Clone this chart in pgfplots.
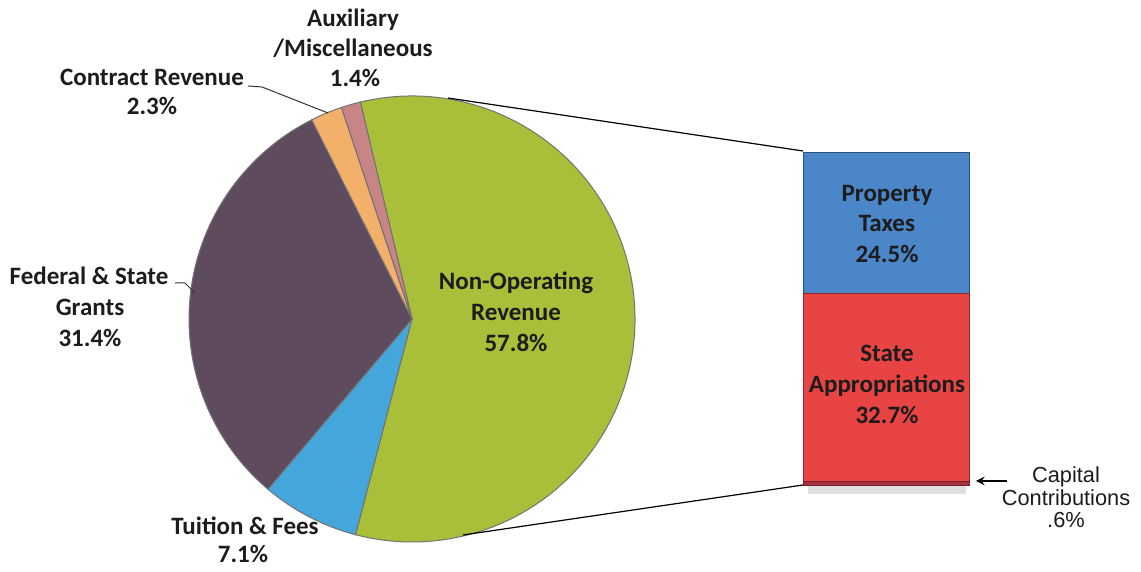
\documentclass[border=0pt]{standalone}
\usepackage{pgfplots}
\pgfplotsset{compat=1.18}
\usepackage{fontspec}
\setmainfont{Carlito}
\newfontfamily\arialfont{Liberation Sans}
\definecolor{nonop}{HTML}{A9BF3A}
\definecolor{tuition}{HTML}{45A6DC}
\definecolor{grants}{HTML}{5E4B5E}
\definecolor{contract}{HTML}{F2B06A}
\definecolor{aux}{HTML}{C88585}
\definecolor{propc}{HTML}{4A86C8}
\definecolor{statec}{HTML}{E84444}
\definecolor{capc}{HTML}{A8303C}
\definecolor{txt}{HTML}{1C1C1C}
\newcommand{\lbl}[3]{\node[anchor=base,inner sep=0pt,font=\bfseries\fontsize{12.5}{15}\selectfont,text=txt] at (axis cs:#1,{572-#2}) {#3};}
\newcommand{\albl}[3]{\node[anchor=base,inner sep=0pt,font=\arialfont\fontsize{10.9}{11.5}\selectfont,text=txt] at (axis cs:#1,{572-#2}) {#3};}
\newcommand{\slice}[3]{\fill[#3, draw=black!55, line width=0.5pt] (axis cs:412,253) -- (axis cs:{412+223*cos(#1)},{253+223*sin(#1)}) arc[start angle=#1, end angle=#2, radius=111.5pt] -- cycle;}
\begin{document}
\begin{tikzpicture}
% pie slice angles from the percentages (clockwise from 103.4 deg)
\pgfmathsetmacro\aA{103.4}
\pgfmathsetmacro\aB{\aA-57.8*3.6}
\pgfmathsetmacro\aC{\aB-7.1*3.6}
\pgfmathsetmacro\aD{\aC-31.4*3.6}
\pgfmathsetmacro\aE{\aD-2.3*3.6}
\pgfmathsetmacro\aF{\aE-1.4*3.6}
% stacked bar of Non-Operating Revenue
\begin{axis}[at={(401.5pt,43.5pt)}, anchor=south west, scale only axis,
  width=83pt, height=166.5pt, xmin=0, xmax=1, ymin=0, ymax=57.8,
  hide axis, clip=false, ybar stacked, bar width=83pt]
\addplot[fill=capc, draw=capc!70!black, line width=0.4pt] coordinates {(0.5,0.6)};
\addplot[fill=statec, draw=statec!60!black, line width=0.4pt] coordinates {(0.5,32.7)};
\addplot[fill=propc, draw=propc!60!black, line width=0.4pt] coordinates {(0.5,24.5)};
\end{axis}
\begin{axis}[at={(0pt,0pt)}, anchor=south west, x=0.5pt, y=0.5pt,
  xmin=0, xmax=1141, ymin=0, ymax=572, hide axis, clip=false]
\path (axis cs:0,0) (axis cs:1141,572);
\slice{\aA}{\aB}{nonop}
\slice{\aB}{\aC}{tuition}
\slice{\aC}{\aD}{grants}
\slice{\aD}{\aE}{contract}
\slice{\aE}{\aF}{aux}
% shadow under bar
\fill[black!12] (axis cs:808,{572-486}) rectangle (axis cs:966,{572-494});
% connectors
\draw[black, line width=0.6pt] (axis cs:448,{572-98}) -- (axis cs:803,{572-151});
\draw[black, line width=0.6pt] (axis cs:463,{572-535}) -- (axis cs:803,{572-485});
% leaders
\draw[black!80, line width=0.5pt] (axis cs:248,{572-86}) -- (axis cs:262,{572-87}) -- (axis cs:328,{572-113});
\draw[black!80, line width=0.5pt] (axis cs:175,{572-283}) -- (axis cs:185,{572-283}) -- (axis cs:195,{572-293});
% arrow
\draw[-stealth, black, line width=0.9pt] (axis cs:1007,{572-481}) -- (axis cs:976,{572-481});
% labels
\lbl{353}{27}{Auxiliary}
\lbl{353}{57}{/Miscellaneous}
\lbl{355}{87}{1.4\%}
\lbl{152}{86}{Contract Revenue}
\lbl{152}{115}{2.3\%}
\lbl{89}{285}{Federal \& State}
\lbl{90}{316}{Grants}
\lbl{90}{347}{31.4\%}
\lbl{245}{535}{Tuition \& Fees}
\lbl{243}{563}{7.1\%}
\lbl{516}{290}{Non-Operating}
\lbl{516}{321}{Revenue}
\lbl{516}{352}{57.8\%}
\lbl{887}{202}{Property}
\lbl{887}{232}{Taxes}
\lbl{887}{263}{24.5\%}
\lbl{887}{362}{State}
\lbl{887}{393}{Appropriations}
\lbl{887}{424}{32.7\%}
\albl{1066}{483}{Capital}
\albl{1066}{506}{Contributions}
\albl{1066}{528}{.6\%}
\end{axis}
\end{tikzpicture}
\end{document}
